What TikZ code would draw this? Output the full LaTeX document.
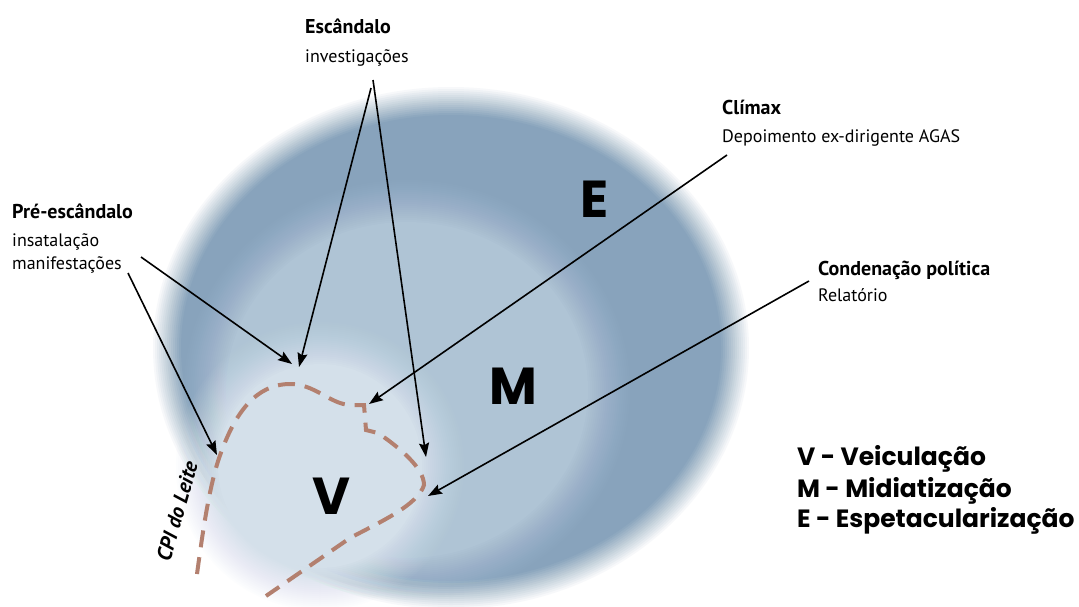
\documentclass[tikz,border=0pt]{standalone}
\usepackage{fontspec}
\setmainfont{PT Sans}
\newfontfamily\legendfont{Poppins}
\usetikzlibrary{arrows.meta}
\definecolor{outerblue}{HTML}{88A3BC}
\definecolor{midblue}{HTML}{AFC4D5}
\definecolor{innerblue}{HTML}{D4E0EA}
\definecolor{dashbrown}{HTML}{B3806F}
% soft-edged ellipse: #6 layers 2pt apart, linear opacity ramp
\newcommand{\fuzzyellipse}[6]{%
  \foreach \k in {1,...,#6}{%
    \pgfmathsetmacro{\myrx}{#4+#6-2*\k}%
    \pgfmathsetmacro{\myry}{#5+#6-2*\k}%
    \pgfmathsetmacro{\myop}{1/(#6+1-\k)}%
    \fill[#1,fill opacity=\myop] (#2,#3) ellipse [x radius=\myrx pt, y radius=\myry pt];
  }%
}
\begin{document}
\begin{tikzpicture}[x=1pt,y=-1pt,
  title/.style={font=\bfseries\fontsize{20}{24}\selectfont, anchor=base west, inner sep=0pt},
  sub/.style={font=\fontsize{18}{22}\selectfont, anchor=base west, inner sep=0pt},
  bigletter/.style={font=\legendfont\bfseries\fontsize{52}{60}\selectfont, inner sep=0pt},
  legend/.style={font=\legendfont\bfseries\fontsize{25}{30}\selectfont, anchor=base west, inner sep=0pt},
  pointer/.style={-{Stealth[length=14pt,width=10pt,inset=2pt]}, line width=1.6pt, black},
  boundary/.style={draw=dashbrown, line width=4pt, dash pattern=on 17pt off 10pt}]
\useasboundingbox (0,0) rectangle (1079,606);
\fill[white] (0,0) rectangle (1079,606);
% blurred regions
\fuzzyellipse{outerblue}{451}{348}{285}{248}{15}
\fuzzyellipse{midblue}{407}{390}{203}{190}{22}
\fuzzyellipse{innerblue}{320}{466}{124}{124}{22}
% dashed boundary
\draw[boundary] (197,574) .. controls (203,530) and (210,480) .. (222,450)
  .. controls (235,415) and (255,384) .. (290,384)
  .. controls (315,384) and (330,404) .. (350,405)
  -- (364,405) -- (366,430) -- (378,433)
  .. controls (400,448) and (424,468) .. (424,485)
  .. controls (418,505) and (380,522) .. (350,538)
  -- (266,596);
% big letters
\node[bigletter] (E) at (595,199) {E};
\node[bigletter] (M) at (513,386) {M};
\node[bigletter] (V) at (331,496) {V};
\node[font=\bfseries\itshape\fontsize{21}{24}\selectfont, rotate=74, inner sep=0pt] (cpi) at (177,511) {CPI do Leite};
% labels
\node[title] (pre) at (12,218) {Pré-escândalo};
\node[sub] (pre1) at (12,246) {insatalação};
\node[sub] (pre2) at (12,269) {manifestações};
\node[title] (esc) at (305,33) {Escândalo};
\node[sub] (esc1) at (305,62) {investigações};
\node[title] (cli) at (722,114) {Clímax};
\node[sub] (cli1) at (722,142) {Depoimento ex-dirigente AGAS};
\node[title] (con) at (818,275) {Condenação política};
\node[sub] (con1) at (818,301) {Relatório};
% legend
\node[legend] (l1) at (797,465) {V - Veiculação};
\node[legend] (l2) at (797,497) {M - Midiatização};
\node[legend] (l3) at (797,527) {E - Espetacularização};
% arrow endpoints
\coordinate (a1s) at (141,257); \coordinate (a1e) at (292,364);
\coordinate (a2s) at (128,273); \coordinate (a2e) at (217,455);
\coordinate (a3s) at (371,88);  \coordinate (a3e) at (299,367);
\coordinate (a4s) at (373,80);  \coordinate (a4e) at (426,457);
\coordinate (a5s) at (727,155); \coordinate (a5e) at (369,404);
\coordinate (a6s) at (809,281); \coordinate (a6e) at (428,496);
\draw[pointer] (a1s) -- (a1e);
\draw[pointer] (a2s) -- (a2e);
\draw[pointer] (a3s) -- (a3e);
\draw[pointer] (a4s) -- (a4e);
\draw[pointer] (a5s) -- (a5e);
\draw[pointer] (a6s) -- (a6e);
\end{tikzpicture}
\end{document}
